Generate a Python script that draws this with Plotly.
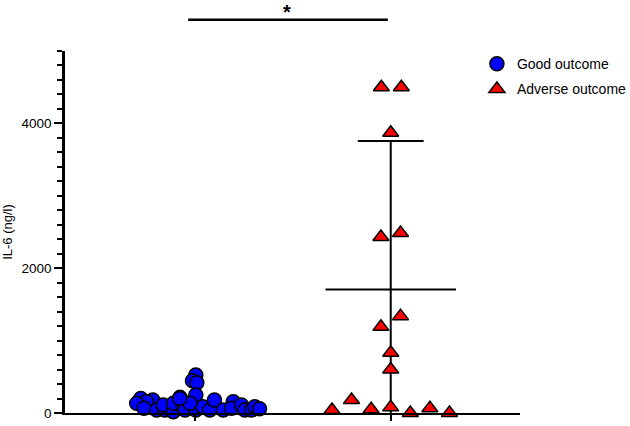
import plotly.graph_objects as go

# ---- data ----
groups = ["Good outcome", "Adverse outcome"]
good_il6 = [524, 445, 418, 248, 202, 179, 156, 133, 65, 41, 41, 110, 18, 133,
            216, 87, 41, 41, 87, 41, 179, 41, 156, 65, 110, 41, 41, 87, 133, 202, 60]
adverse_il6 = [4500, 4500, 3870, 2432, 2487, 1190, 1338, 832, 602,
               179, 41, 51, 78, 0, 65, 0]
adverse_mean = 1706
adverse_sd = 2050
y_ticks = [0, 2000, 4000]

# ---- layout helpers (horizontal scatter of points within each column) ----
good_jitter = [0.005, -0.012, 0.01, 0.005, -0.276, -0.215, -0.246, -0.297, -0.26, -0.195, -0.153, -0.162,
               -0.11, -0.11, -0.076, -0.06, -0.05, 0.005, 0.04, 0.076, 0.1, 0.145, 0.196, 0.187, 0.238,
               0.255, 0.289, 0.306, -0.025, -0.077, 0.33]
adverse_jitter = [-0.048, 0.054, 0.0, -0.05, 0.05, -0.05, 0.05, 0.0, 0.0,
                  -0.2, -0.3, -0.1, 0.0, 0.1, 0.2, 0.3]

good_x = [1 + j for j in good_jitter]
adv_x = [2 + j for j in adverse_jitter]

fig = go.Figure()

# mean and SD for adverse group
fig.add_shape(type="line", x0=2, x1=2, y0=0, y1=adverse_mean + adverse_sd,
              line=dict(color="black", width=2), layer="below")
fig.add_shape(type="line", x0=2 - 0.168, x1=2 + 0.168, y0=adverse_mean + adverse_sd,
              y1=adverse_mean + adverse_sd, line=dict(color="black", width=2), layer="below")
fig.add_shape(type="line", x0=2 - 0.333, x1=2 + 0.333, y0=adverse_mean, y1=adverse_mean,
              line=dict(color="black", width=2), layer="below")

fig.add_trace(go.Scatter(
    x=good_x, y=good_il6, mode="markers", name=groups[0], legendgroup="g1",
    marker=dict(symbol="circle", size=14, color="#0000ff",
                line=dict(color="black", width=1.5)),
    cliponaxis=False))
fig.add_trace(go.Scatter(
    x=adv_x, y=adverse_il6, mode="markers", name=groups[1], legendgroup="g2",
    marker=dict(symbol="triangle-up", size=14, color="#ff0000",
                line=dict(color="black", width=1.5)),
    cliponaxis=False))

# significance bar
fig.add_shape(type="line", x0=0.966, x1=1.985, y0=1.086, y1=1.086, xref="x", yref="paper",
              line=dict(color="black", width=2.5))
fig.add_annotation(x=1.47, y=1.108, xref="x", yref="paper", text="<b>*</b>", showarrow=False,
                   font=dict(size=20, color="black"), yanchor="middle")

fig.update_layout(
    width=630, height=426,
    margin=dict(l=65, r=110, t=51, b=13, autoexpand=False),
    plot_bgcolor="white", paper_bgcolor="white",
    font=dict(family="Liberation Sans, Arial, sans-serif", size=13, color="black"),
    showlegend=True,
    legend=dict(x=0.757, y=0.887, xref="container", yref="container",
                xanchor="left", yanchor="top", traceorder="grouped",
                font=dict(size=14), bgcolor="rgba(0,0,0,0)", tracegroupgap=4),
    xaxis=dict(range=[0.337, 2.66], showgrid=False, zeroline=False, automargin=False,
               showline=True, linecolor="black", linewidth=2,
               tickvals=[1, 2], ticktext=["", ""], ticks="outside", ticklen=6,
               tickwidth=2, tickcolor="black"),
    yaxis=dict(range=[0, 5000], showgrid=False, zeroline=False, automargin=False,
               showline=True, linecolor="black", linewidth=2.5,
               tickvals=y_ticks, ticks="outside", ticklen=8, tickwidth=2,
               tickcolor="black", tickfont=dict(size=13.5),
               title=dict(text="IL-6 (ng/l)", font=dict(size=13), standoff=6),
               minor=dict(dtick=200, ticks="outside", ticklen=5, tickwidth=2,
                          tickcolor="black", showgrid=False)),
)

fig.write_html("out.html", config={"displayModeBar": False},
               post_script="document.body.style.margin='0';")
